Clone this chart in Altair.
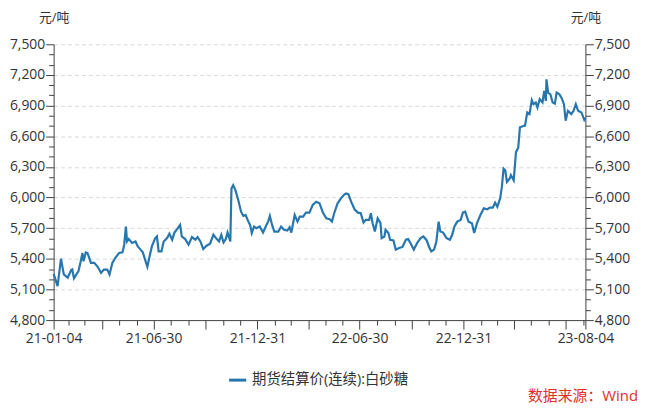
import altair as alt
import pandas as pd

start_date = "2021-01-04"
day_offsets = [
    0, 7, 13, 18, 25, 31, 33, 36, 44, 48, 51, 53, 57, 60, 66, 72, 78, 84, 89, 95,
    99, 104, 110, 116, 122, 125, 128, 130, 133, 139, 145, 149, 154, 158, 162, 166, 170, 174, 180, 183,
    186, 191, 195, 201, 205, 210, 214, 220, 224, 227, 233, 239, 245, 251, 255, 260, 265, 271, 277, 283,
    289, 293, 297, 301, 305, 308, 313, 315, 318, 322, 327, 332, 336, 340, 345, 348, 351, 355, 359, 365,
    371, 377, 380, 383, 387, 391, 398, 403, 408, 414, 418, 421, 427, 432, 436, 442, 447, 453, 459, 465,
    471, 477, 483, 489, 493, 497, 503, 509, 514, 518, 522, 527, 533, 539, 544, 549, 553, 559, 562, 565,
    569, 574, 579, 581, 586, 588, 593, 596, 602, 606, 612, 618, 624, 628, 632, 638, 644, 650, 655, 661,
    665, 669, 674, 678, 682, 685, 690, 696, 702, 706, 710, 715, 721, 725, 729, 735, 741, 745, 750, 756,
    762, 768, 773, 778, 782, 786, 791, 794, 797, 800, 803, 808, 810, 815, 819, 823, 826, 831, 835, 839,
    843, 847, 850, 854, 857, 861, 866, 869, 872, 873, 876, 880, 884, 888, 891, 896, 900, 904, 907, 911,
    917, 921, 925, 929, 935, 940, 942,
]
prices = [
    5253, 5133, 5402, 5247, 5215, 5289, 5295, 5208, 5279, 5376, 5457, 5376, 5463, 5457, 5360, 5360, 5322, 5263, 5295, 5295,
    5247, 5360, 5415, 5457, 5463, 5538, 5716, 5570, 5593, 5555, 5570, 5521, 5490, 5463, 5392, 5322, 5425, 5521, 5603, 5619,
    5473, 5473, 5570, 5603, 5645, 5587, 5657, 5700, 5732, 5619, 5593, 5538, 5613, 5587, 5613, 5570, 5496, 5528, 5548, 5635,
    5593, 5570, 5635, 5560, 5593, 5657, 5570, 6089, 6121, 6072, 5975, 5861, 5820, 5829, 5764, 5732, 5652, 5716, 5700, 5716,
    5657, 5732, 5764, 5820, 5732, 5667, 5667, 5716, 5684, 5677, 5710, 5657, 5829, 5764, 5813, 5813, 5852, 5852, 5927, 5959,
    5943, 5852, 5797, 5787, 5764, 5846, 5943, 5992, 6024, 6040, 6033, 5959, 5885, 5852, 5846, 5755, 5781, 5781, 5846, 5749,
    5667, 5797, 5749, 5603, 5619, 5684, 5652, 5587, 5580, 5490, 5506, 5516, 5587, 5593, 5555, 5490, 5555, 5603, 5619, 5580,
    5516, 5473, 5490, 5570, 5764, 5667, 5657, 5603, 5587, 5635, 5716, 5764, 5781, 5852, 5861, 5764, 5749, 5652, 5749, 5829,
    5894, 5885, 5901, 5901, 5949, 5910, 5992, 6104, 6283, 6267, 6153, 6186, 6218, 6169, 6444, 6487, 6687, 6697, 6704, 6833,
    6817, 6953, 6914, 6930, 6881, 6963, 6930, 7044, 6946, 7157, 7027, 7010, 6930, 6920, 7027, 7010, 6972, 6914, 6752, 6849,
    6817, 6849, 6914, 6849, 6833, 6760, 6780,
]
series_name = "期货结算价(连续):白砂糖"
unit_label = "元/吨"
source_text = "数据来源：Wind"
x_label_dates = ["21-01-04", "21-06-30", "21-12-31", "22-06-30", "22-12-31", "23-08-04"]
quarter_ends = ["03-31", "06-30", "09-30", "12-31"]
y_tick_values = list(range(4800, 7501, 100))

dates = pd.Timestamp(start_date) + pd.to_timedelta(day_offsets, unit="D")
df = pd.DataFrame({"date": dates, "price": prices, "series": series_name})

# x ticks: first day, every month end, last day
tick_dates = [pd.Timestamp(start_date)]
for y in (2021, 2022, 2023):
    for m in range(1, 13):
        me = pd.Timestamp(y, m, 1) + pd.offsets.MonthEnd(0)
        if tick_dates[0] < me < dates[-1]:
            tick_dates.append(me)
tick_dates.append(dates[-1])
x_values = [alt.DateTime(year=t.year, month=t.month, date=t.day) for t in tick_dates]

lab_list = "[" + ",".join("'%s'" % s for s in x_label_dates) + "]"
q_list = "[" + ",".join("'%s'" % s for s in quarter_ends) + "]"
edge_list = "['%s','%s']" % (x_label_dates[0], x_label_dates[-1])

FONT = "Open Sans, Noto Sans CJK SC, sans-serif"
AX = "#404040"
TXT = "#333333"

x_axis = alt.Axis(
    values=x_values,
    labelExpr=f"indexof({lab_list}, timeFormat(datum.value, '%y-%m-%d')) >= 0 ? timeFormat(datum.value, '%y-%m-%d') : ''",
    tickSize={"condition": {"test": f"indexof({q_list}, timeFormat(datum.value, '%m-%d')) >= 0 || indexof({edge_list}, timeFormat(datum.value, '%y-%m-%d')) >= 0", "value": 9}, "value": 5},
    labelOverlap=False, labelFlush=False, labelBound=False,
    labelPadding=3, grid=False, title="",
    domainColor=AX, tickColor=AX, labelColor=TXT, labelFontSize=14, labelFont=FONT,
)
x_enc = alt.X("date:T", axis=x_axis, scale=alt.Scale(domain=[alt.DateTime(year=2021, month=1, date=4), alt.DateTime(year=2023, month=8, date=4)]))

def y_axis(orient, grid):
    kw = dict(
        orient=orient,
        values=y_tick_values,
        labelExpr="datum.value % 300 === 0 ? format(datum.value, ',') : ''",
        tickSize={"condition": {"test": "datum.value % 300 === 0", "value": 8}, "value": 5},
        labelPadding=1, labelOverlap=False, labelFlush=False,
        domainColor=AX, tickColor=AX, labelColor=TXT, labelFontSize=14, labelFont=FONT,
        title=unit_label, titleAngle=0, titleX=0, titleY=-27, titleAlign="center", titleBaseline="middle",
        titleFontWeight="normal", titleFontSize=13, titleColor=TXT, titleFont=FONT,
        grid=grid,
    )
    if grid:
        kw.update(
            gridOpacity={"condition": {"test": "datum.value % 300 === 0 && datum.value > 4800", "value": 1}, "value": 0},
            gridDash=[4, 3], gridColor="#d9d9d9", gridWidth=1,
        )
    return alt.Axis(**kw)

y_scale = alt.Scale(domain=[4800, 7500], nice=False, zero=False)

line = alt.Chart(df).mark_line(strokeWidth=2.2).encode(
    x=x_enc,
    y=alt.Y("price:Q", scale=y_scale, axis=y_axis("left", True)),
    color=alt.Color("series:N", scale=alt.Scale(range=["#2777AE"]), title=None,
                    legend=alt.Legend(orient="none", legendX=175, legendY=328, symbolType="stroke",
                                      symbolStrokeWidth=3, symbolSize=300, labelFontSize=14.5,
                                      labelColor=TXT, labelFont=FONT, labelLimit=400, padding=0)),
)

right = alt.Chart(df).mark_line(opacity=0).encode(
    x=x_enc,
    y=alt.Y("price:Q", scale=y_scale, axis=y_axis("right", False)),
)

note = alt.Chart(pd.DataFrame({"t": [source_text]})).mark_text(
    align="right", baseline="middle", fontSize=15, color="#E0302A", font=FONT
).encode(text="t:N", x=alt.value(589), y=alt.value(355))

chart = alt.layer(line, right, note).resolve_scale(y="independent").properties(
    width=536, height=278,
    padding={"left": 46, "top": 35, "right": 52, "bottom": 85},
    autosize=alt.AutoSizeParams(type="none"),
).configure_view(stroke="transparent")

chart.save("out.html", embed_options={"renderer": "svg", "actions": False})
